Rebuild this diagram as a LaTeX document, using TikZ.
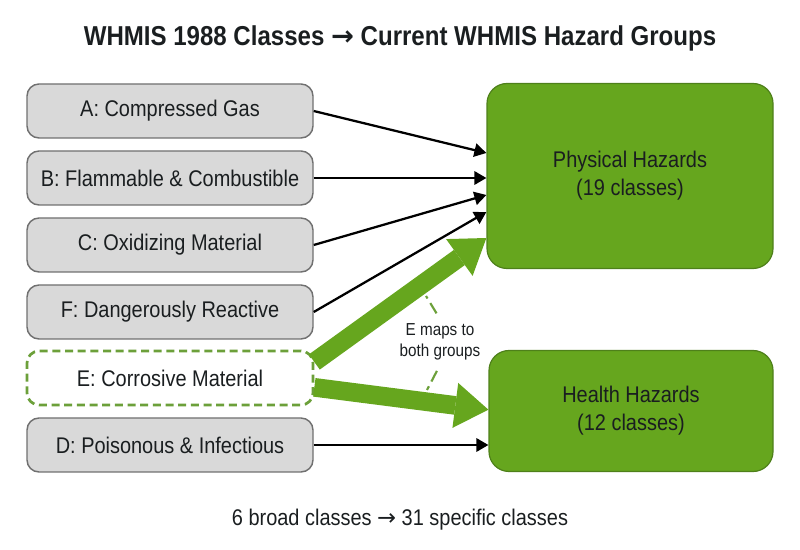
\documentclass[tikz,border=0pt]{standalone}
\usepackage{fontspec}
\setmainfont{Liberation Sans}[FakeStretch=0.88]
\newfontfamily\simb{DejaVu Sans}
\usetikzlibrary{arrows.meta}
\definecolor{verde}{RGB}{102,166,30}
\definecolor{verdeosc}{RGB}{78,128,26}
\definecolor{verdetraz}{RGB}{108,160,58}
\definecolor{gris}{RGB}{217,217,217}
\definecolor{borde}{RGB}{112,112,112}
\definecolor{tinta}{RGB}{26,30,32}
\newcommand{\flechita}{{\simb →}}
\tikzset{
  clase/.style={draw=borde, fill=gris, line width=1.1pt, rounded corners=9pt,
    minimum width=214.5pt, minimum height=40.5pt, inner sep=0pt,
    text=tinta, font=\fontsize{17}{20}\selectfont},
  claseE/.style={clase, draw=verdetraz, fill=white, line width=2pt,
    dash pattern=on 6pt off 3.5pt},
  grupo/.style={draw=verdeosc, fill=verde, line width=0.9pt, rounded corners=15pt,
    inner sep=0pt, align=center, text=tinta,
    font=\fontsize{17}{21}\selectfont},
  flecha/.style={-{Triangle[length=9pt,width=10pt]}, line width=1.7pt, black},
  gruesa/.style={-{Triangle[length=25pt,width=34pt,line width=0pt]},
    line width=14pt, draw=verde},
  guia/.style={draw=verdetraz, line width=1.6pt, dash pattern=on 9pt off 4pt}
}
\begin{document}
\begin{tikzpicture}[x=0.75pt, y=0.75pt]
    \useasboundingbox (0,0) rectangle (800,550);
    % Titulo
    \node[text=tinta, font=\fontsize{20.5}{23}\selectfont\bfseries] (titulo) at (400,512)
        {WHMIS 1988 Classes \flechita\ Current WHMIS Hazard Groups};
    % Clases WHMIS 1988
    \node[clase]  (a) at (170,439) {A: Compressed Gas};
    \node[clase]  (b) at (170,372) {B: Flammable \& Combustible};
    \node[clase]  (c) at (170,305) {C: Oxidizing Material};
    \node[clase]  (f) at (170,238) {F: Dangerously Reactive};
    \node[claseE] (e) at (170,172) {E: Corrosive Material};
    \node[clase]  (d) at (170,105) {D: Poisonous \& Infectious};
    % Grupos actuales
    \node[grupo, minimum width=214.5pt, minimum height=138.75pt] (fis) at (630,374)
        {Physical Hazards\\(19 classes)};
    \node[grupo, minimum width=213pt, minimum height=90.75pt] (sal) at (631,139)
        {Health Hazards\\(12 classes)};
    % Flechas a peligros fisicos
    \draw[flecha] (a.east) -- ([yshift=17.25pt]fis.west);
    \draw[flecha] (b.east) -- (b.east -| fis.west);
    \draw[flecha] (c.east) -- ([yshift=-14.25pt]fis.west);
    \draw[flecha] (f.east) -- ([yshift=-27pt]fis.west);
    % Flecha a peligros para la salud
    \draw[flecha] (d.east) -- (d.east -| sal.west);
    % Flechas de E a ambos grupos
    \draw[gruesa] ([yshift=12pt]e.east) -- ([yshift=-46.5pt]fis.west);
    \draw[gruesa] ([yshift=-7pt]e.east) -- ([yshift=1pt]sal.west);
    % Anotacion
    \node[text=tinta, align=center, font=\fontsize{13}{15.75}\selectfont] (nota) at (440,208)
        {E maps to\\both groups};
    \coordinate (p1) at (426,254);
    \coordinate (p2) at (427,160);
    \draw[guia, shorten <=5pt] (nota.north) -- (p1);
    \draw[guia, shorten <=5pt] (nota.south) -- (p2);
    % Resumen
    \node[text=tinta, font=\fontsize{17}{20}\selectfont] (resumen) at (400,30)
        {6 broad classes \flechita\ 31 specific classes};
\end{tikzpicture}
\end{document}
